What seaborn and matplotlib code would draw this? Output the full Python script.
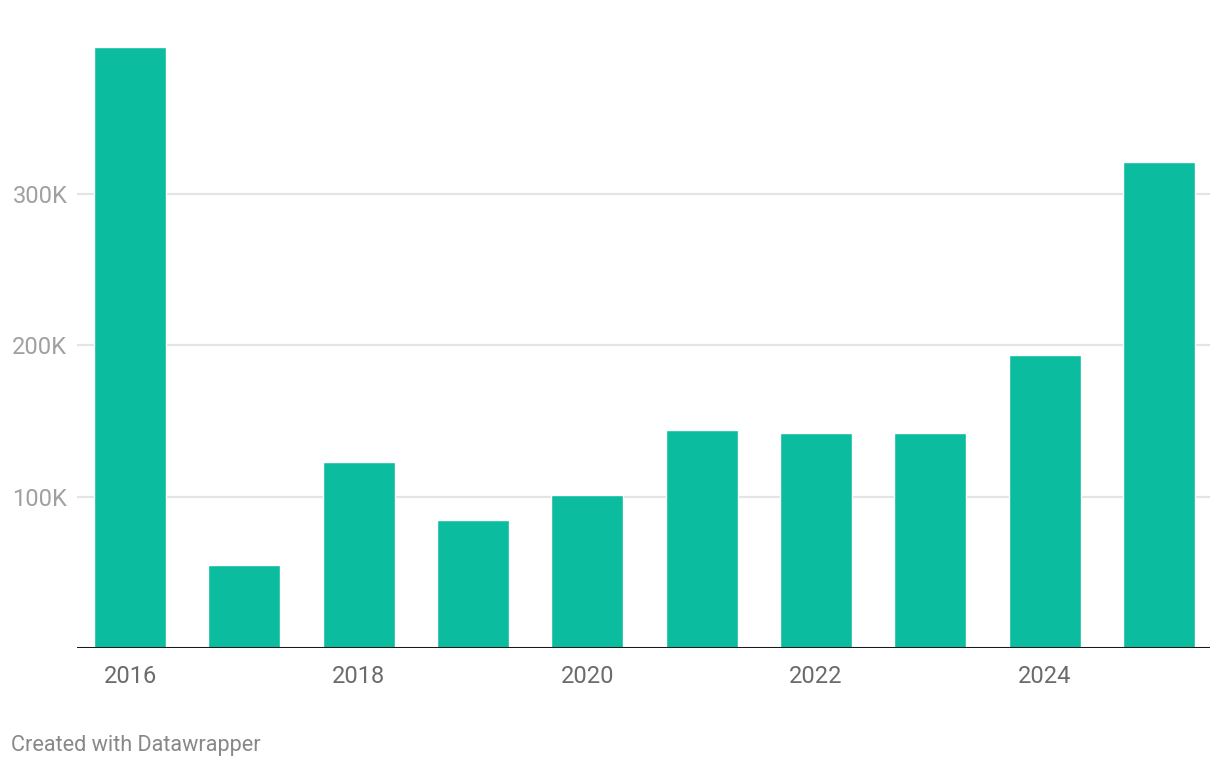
import matplotlib
matplotlib.use("Agg")
import matplotlib.pyplot as plt
import seaborn as sns
import pandas as pd

# data
years = [2016, 2017, 2018, 2019, 2020, 2021, 2022, 2023, 2024, 2025]
values = [397000, 54700, 122800, 84300, 101000, 143900, 141900, 141900, 193500, 321000]
y_ticks = [100000, 200000, 300000]
y_tick_labels = ["100K", "200K", "300K"]
x_tick_years = [2016, 2018, 2020, 2022, 2024]

df = pd.DataFrame({"year": [str(y) for y in years], "value": values})

sns.set_theme(style="white")
plt.rcParams["font.family"] = ["Roboto", "DejaVu Sans"]

fig = plt.figure(figsize=(12.2, 7.7), dpi=100)
ax = fig.add_axes([0.0631, 0.1584, 0.9287, 0.8254])

sns.barplot(data=df, x="year", y="value", color="#0bbc9f", saturation=1,
            width=0.63, ax=ax, zorder=3)

ax.set_xlim(-0.464, 9.446)
ax.set_ylim(0, 420000)

# grid
for t in y_ticks:
    ax.axhline(t, color="#e4e4e4", lw=1.6, zorder=1)
ax.axhline(0, color="#1a1a1a", lw=2.2, zorder=4)

ax.set_yticks(y_ticks)
ax.set_yticklabels(y_tick_labels, fontsize=17, color="#a0a0a0")
pos = [years.index(y) for y in x_tick_years]
ax.set_xticks(pos)
ax.set_xticklabels([str(y) for y in x_tick_years], fontsize=17, color="#6b6b6b")
ax.tick_params(axis="y", length=0, pad=7)
ax.tick_params(axis="x", length=0, pad=12)
ax.set_xlabel("")
ax.set_ylabel("")
for s in ax.spines.values():
    s.set_visible(False)

fig.text(11 / 1220, 1 - 746 / 770, "Created with Datawrapper", fontsize=15.6,
         color="#888888", va="center", ha="left")

fig.savefig("out.png", dpi=100)
